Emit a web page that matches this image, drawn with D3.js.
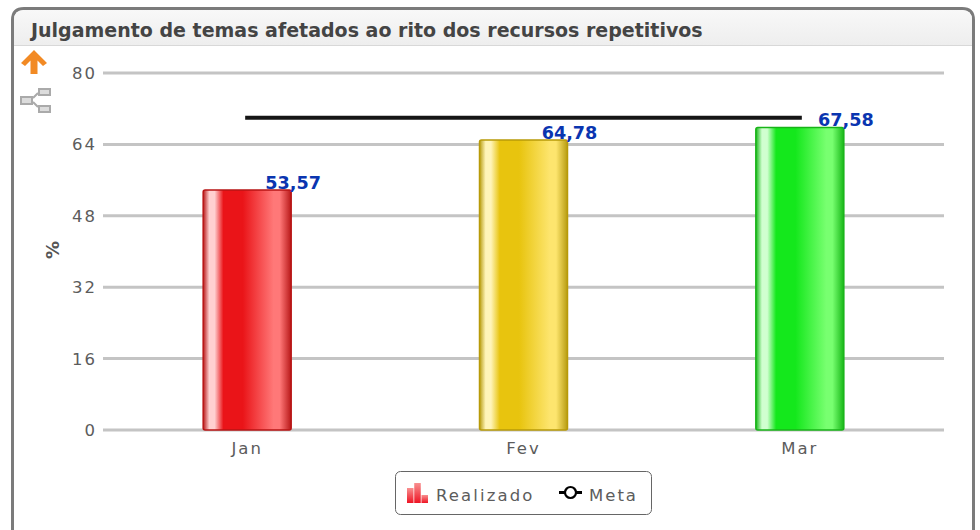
<!DOCTYPE html>
<html>
<head>
<meta charset="utf-8">
<script src="https://cdn.jsdelivr.net/npm/d3@7"></script>
<style>
html, body { margin: 0; padding: 0; background: #fff; overflow: hidden; }
#chart { width: 980px; height: 530px; }
text { font-family: "DejaVu Sans", sans-serif; }
</style>
</head>
<body>
<div id="chart"></div>
<script>
var categories = ["Jan", "Fev", "Mar"];
var realizado = [53.57, 64.78, 67.58];
var realizadoLabels = ["53,57", "64,78", "67,58"];
var meta = [70, 70, 70];
var yTicks = [0, 16, 32, 48, 64, 80];
var barColors = [
    { edge: "#b81414", dark: "#b81818", light: "#ffd0d0", main: "#ea1418", soft: "#ff7878" },
    { edge: "#b89a08", dark: "#b89c10", light: "#fff4b8", main: "#e8c40e", soft: "#fde56e" },
    { edge: "#18b418", dark: "#18b818", light: "#d0ffd0", main: "#14e81c", soft: "#78ff70" }
];

var svg = d3.select("#chart")
    .append("svg")
    .attr("width", 980)
    .attr("height", 530);

var defs = svg.append("defs");

// header gradient
var hg = defs.append("linearGradient").attr("id", "head").attr("x1", 0).attr("x2", 0).attr("y1", 0).attr("y2", 1);
hg.append("stop").attr("offset", 0).attr("stop-color", "#f8f8f8");
hg.append("stop").attr("offset", 1).attr("stop-color", "#eeeeee");

barColors.forEach(function(c, i) {
    var g = defs.append("linearGradient").attr("id", "bar" + i);
    g.append("stop").attr("offset", 0).attr("stop-color", c.dark);
    g.append("stop").attr("offset", 0.07).attr("stop-color", c.light);
    g.append("stop").attr("offset", 0.13).attr("stop-color", c.light);
    g.append("stop").attr("offset", 0.23).attr("stop-color", c.main);
    g.append("stop").attr("offset", 0.45).attr("stop-color", c.main);
    g.append("stop").attr("offset", 0.8).attr("stop-color", c.soft);
    g.append("stop").attr("offset", 0.87).attr("stop-color", c.soft);
    g.append("stop").attr("offset", 1).attr("stop-color", c.dark);
});

// frame
svg.append("path")
    .attr("d", "M12.5,540 V20 Q12.5,8.5 24,8.5 H962 Q973.5,8.5 973.5,20 V540 Z")
    .attr("fill", "#fff")
    .attr("stroke", "#7b7b7b")
    .attr("stroke-width", 3);
svg.append("path")
    .attr("d", "M14,45 V20 Q14,10 24,10 H962 Q972,10 972,20 V45 Z")
    .attr("fill", "url(#head)");
svg.append("line")
    .attr("x1", 14).attr("x2", 972).attr("y1", 45.5).attr("y2", 45.5)
    .attr("stroke", "#d8d8d8");

svg.append("text")
    .attr("x", 31).attr("y", 37)
    .attr("font-size", 19)
    .attr("font-weight", "bold")
    .attr("fill", "#444")
    .text("Julgamento de temas afetados ao rito dos recursos repetitivos");

// scales
var x = d3.scaleBand().domain(categories).range([109, 938]);
var y = d3.scaleLinear().domain([0, 80]).range([430, 73]);
var barWidth = 88;

// grid lines
svg.selectAll(".grid")
    .data(yTicks)
    .enter()
    .append("line")
    .attr("class", "grid")
    .attr("x1", 103).attr("x2", 944)
    .attr("y1", function(d) { return y(d); })
    .attr("y2", function(d) { return y(d); })
    .attr("stroke", "#c4c4c4")
    .attr("stroke-width", 3);

// y axis labels
svg.selectAll(".ylabel")
    .data(yTicks)
    .enter()
    .append("text")
    .attr("class", "ylabel")
    .attr("x", 97)
    .attr("y", function(d) { return y(d) + 6; })
    .attr("text-anchor", "end")
    .attr("font-size", 16.5)
    .attr("letter-spacing", 2)
    .attr("fill", "#5c5c5c")
    .text(function(d) { return d; });

svg.append("text")
    .attr("transform", "translate(59,250) rotate(-90)")
    .attr("text-anchor", "middle")
    .attr("font-size", 18)
    .attr("font-weight", "bold")
    .attr("fill", "#555")
    .text("%");

// x labels
svg.selectAll(".xlabel")
    .data(categories)
    .enter()
    .append("text")
    .attr("class", "xlabel")
    .attr("x", function(d) { return x(d) + x.bandwidth() / 2; })
    .attr("y", 454)
    .attr("text-anchor", "middle")
    .attr("font-size", 16.5)
    .attr("letter-spacing", 2)
    .attr("fill", "#5c5c5c")
    .text(function(d) { return d; });

// bars
svg.selectAll(".bar")
    .data(realizado)
    .enter()
    .append("rect")
    .attr("class", "bar")
    .attr("x", function(d, i) { return x(categories[i]) + x.bandwidth() / 2 - barWidth / 2; })
    .attr("y", function(d) { return y(d) - 1; })
    .attr("width", barWidth)
    .attr("height", function(d) { return y(0) - y(d) + 1; })
    .attr("rx", 2)
    .attr("fill", function(d, i) { return "url(#bar" + i + ")"; })
    .attr("stroke", function(d, i) { return barColors[i].edge; })
    .attr("stroke-width", 1.5);

// meta line
var line = d3.line()
    .x(function(d, i) { return x(categories[i]) + x.bandwidth() / 2; })
    .y(function(d) { return y(d); });
svg.append("path")
    .attr("d", line(meta))
    .attr("fill", "none")
    .attr("stroke", "#151515")
    .attr("stroke-linecap", "square")
    .attr("stroke-width", 4);

// value labels
svg.selectAll(".value")
    .data(realizado)
    .enter()
    .append("text")
    .attr("class", "value")
    .attr("x", function(d, i) { return x(categories[i]) + x.bandwidth() / 2 + barWidth / 2 + 2; })
    .attr("y", function(d) { return y(d) - 2; })
    .attr("text-anchor", "middle")
    .attr("font-size", 17.6)
    .attr("font-weight", "bold")
    .attr("fill", "#0a35b0")
    .text(function(d, i) { return realizadoLabels[i]; });

// legend
svg.append("rect")
    .attr("x", 395.5).attr("y", 471.5)
    .attr("width", 256).attr("height", 43)
    .attr("rx", 5)
    .attr("fill", "#fff")
    .attr("stroke", "#666");

var legendBars = d3.scaleBand().domain(["a", "b", "c"]).range([407, 428]).paddingInner(0.1);
var legendHeights = [15, 20, 8];
var legendIcon = defs.append("linearGradient").attr("id", "legendbar").attr("x1", 0).attr("x2", 0).attr("y1", 0).attr("y2", 1);
legendIcon.append("stop").attr("offset", 0).attr("stop-color", "#f89090");
legendIcon.append("stop").attr("offset", 1).attr("stop-color", "#ee1424");
svg.selectAll(".legendbar")
    .data(legendHeights)
    .enter()
    .append("rect")
    .attr("class", "legendbar")
    .attr("x", function(d, i) { return legendBars(["a", "b", "c"][i]); })
    .attr("y", function(d) { return 503 - d; })
    .attr("width", legendBars.bandwidth())
    .attr("height", function(d) { return d; })
    .attr("fill", "url(#legendbar)");

svg.append("text")
    .attr("x", 436).attr("y", 501)
    .attr("font-size", 16.5)
    .attr("letter-spacing", 2.1)
    .attr("fill", "#5c5c5c")
    .text("Realizado");

svg.append("line")
    .attr("x1", 559).attr("x2", 582).attr("y1", 492.5).attr("y2", 492.5)
    .attr("stroke", "#000").attr("stroke-width", 3);
svg.append("circle")
    .attr("cx", 570.5).attr("cy", 492.5).attr("r", 5.5)
    .attr("fill", "#fff").attr("stroke", "#000").attr("stroke-width", 2.2);

svg.append("text")
    .attr("x", 589).attr("y", 501)
    .attr("font-size", 16.5)
    .attr("letter-spacing", 2)
    .attr("fill", "#5c5c5c")
    .text("Meta");

// up arrow
svg.append("path")
    .attr("d", "M34,50 L47,63 L43,66 L37.5,60.5 V74 H30.5 V60.5 L25,66 L21,63 Z")
    .attr("fill", "#f28a24");

// tree icon
var tree = svg.append("g").attr("fill", "#dcdcdc").attr("stroke", "#aaaaaa").attr("stroke-width", 2);
tree.append("path").attr("d", "M33,98 L38,93 M33,102 L38,107").attr("fill", "none");
tree.append("rect").attr("x", 21).attr("y", 97).attr("width", 11).attr("height", 7);
tree.append("rect").attr("x", 39).attr("y", 89).attr("width", 11).attr("height", 6);
tree.append("rect").attr("x", 39).attr("y", 106).attr("width", 11).attr("height", 6);
</script>
</body>
</html>
